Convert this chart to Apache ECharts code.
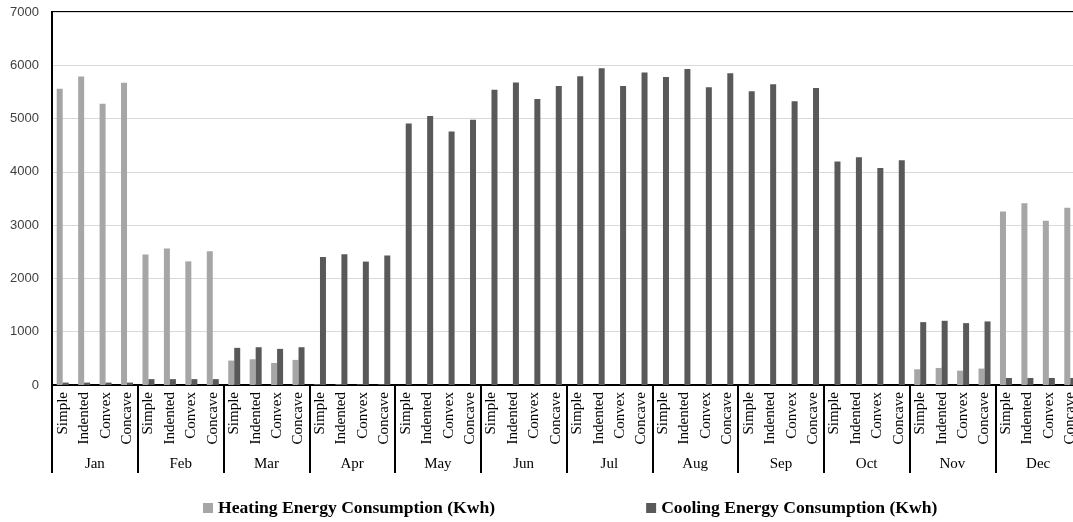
<!DOCTYPE html>
<html>
<head>
<meta charset="utf-8">
<title>Energy Consumption</title>
<script src="https://cdn.jsdelivr.net/npm/echarts@6/dist/echarts.min.js"></script>
<style>
  html, body { margin: 0; padding: 0; background: #fff; }
  #chart { width: 1073px; height: 522px; }
</style>
</head>
<body>
<div id="chart"></div>
<script>
// categories
var months = ['Jan', 'Feb', 'Mar', 'Apr', 'May', 'Jun', 'Jul', 'Aug', 'Sep', 'Oct', 'Nov', 'Dec'];
var shapes = ['Simple', 'Indented', 'Convex', 'Concave'];

// values per month, in shape order (Simple, Indented, Convex, Concave)
var heating = [
    5560, 5790, 5280, 5670,
    2450, 2560, 2320, 2510,
    458, 483, 414, 471,
    10, 12, 8, 9,
    0, 0, 0, 0,
    0, 0, 0, 0,
    0, 0, 0, 0,
    0, 0, 0, 0,
    0, 0, 0, 0,
    0, 0, 0, 0,
    295, 320, 270, 308,
    3258, 3409, 3082, 3327
];
var cooling = [
    45, 45, 45, 45,
    110, 110, 110, 110,
    697, 709, 678, 709,
    2404, 2454, 2316, 2429,
    4909, 5047, 4758, 4978,
    5543, 5675, 5367, 5612,
    5794, 5945, 5612, 5863,
    5782, 5932, 5590, 5851,
    5512, 5643, 5323, 5574,
    4193, 4275, 4074, 4218,
    1180, 1205, 1161, 1193,
    132, 132, 132, 132
];

var categories = [];
months.forEach(function () {
    shapes.forEach(function (s) { categories.push(s); });
});

var chart = echarts.init(document.getElementById('chart'));

chart.setOption({
    animation: false,
    grid: {
        left: 52,
        top: 12,
        width: 1029,
        bottom: 137,
        outerBoundsMode: 'none',
        show: true,
        borderColor: '#000',
        borderWidth: 2
    },
    legend: {
        left: 198,
        top: 494,
        itemWidth: 10,
        itemHeight: 10,
        itemGap: 151,
        icon: 'rect',
        textStyle: {
            fontFamily: 'Liberation Serif',
            fontWeight: 'bold',
            fontSize: 17.6,
            color: '#000'
        },
        data: ['Heating Energy Consumption (Kwh)', 'Cooling Energy Consumption (Kwh)']
    },
    xAxis: [
        {
            type: 'category',
            data: categories,
            position: 'bottom',
            axisLine: { lineStyle: { color: '#000', width: 2 } },
            axisTick: { show: false },
            axisLabel: {
                interval: 0,
                rotate: 90,
                margin: 7,
                fontFamily: 'Liberation Serif',
                fontSize: 15,
                color: '#000'
            }
        },
        {
            type: 'category',
            data: months,
            position: 'bottom',
            offset: 0,
            axisLine: { show: false },
            axisTick: {
                show: true,
                length: 88,
                lineStyle: { color: '#000', width: 2 }
            },
            axisLabel: {
                interval: 0,
                margin: 72,
                fontFamily: 'Liberation Serif',
                fontSize: 15,
                color: '#000'
            }
        }
    ],
    yAxis: {
        type: 'value',
        min: 0,
        max: 7000,
        interval: 1000,
        axisLine: { show: true, lineStyle: { color: '#000', width: 2 } },
        axisTick: { show: false },
        axisLabel: {
            margin: 13,
            fontFamily: 'Liberation Sans',
            fontSize: 13,
            color: '#404040',
            formatter: function (v) { return String(v); }
        },
        splitLine: { lineStyle: { color: '#d9d9d9', width: 1 } }
    },
    series: [
        {
            name: 'Heating Energy Consumption (Kwh)',
            type: 'bar',
            xAxisIndex: 0,
            data: heating,
            barWidth: 6,
            barGap: '0%',
            itemStyle: { color: '#a6a6a6' }
        },
        {
            name: 'Cooling Energy Consumption (Kwh)',
            type: 'bar',
            xAxisIndex: 0,
            data: cooling,
            barWidth: 6,
            barGap: '0%',
            itemStyle: { color: '#595959' }
        }
    ]
});
</script>
</body>
</html>
